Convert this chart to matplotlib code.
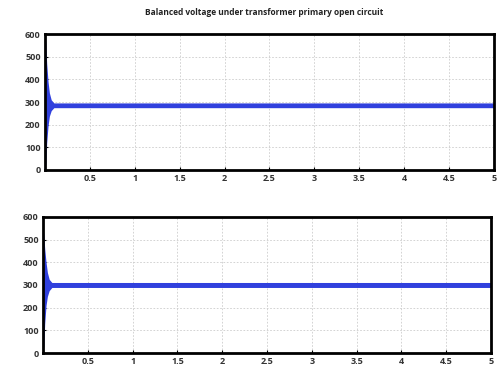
import matplotlib.pyplot as plt

# time points and envelope (upper / lower edge of the thick ripple band)
t_top = [0.0, 0.01, 0.02, 0.035, 0.05, 0.07, 0.1, 5.0]
upper_top = [600, 560, 470, 390, 340, 310, 296, 296]
lower_top = [0, 30, 120, 195, 238, 262, 275, 275]

t_bot = [0.0, 0.01, 0.02, 0.035, 0.05, 0.07, 0.1, 5.0]
upper_bot = [560, 520, 460, 400, 355, 325, 311, 311]
lower_bot = [0, 30, 130, 210, 250, 275, 289, 289]

xticks = [0.5, 1, 1.5, 2, 2.5, 3, 3.5, 4, 4.5, 5]
xticklabels = ["0.5", "1", "1.5", "2", "2.5", "3", "3.5", "4", "4.5", "5"]
yticks = [0, 100, 200, 300, 400, 500, 600]

title = "Balanced voltage under transformer primary open circuit"

plt.rcParams['font.family'] = ['Open Sans', 'DejaVu Sans']

fig = plt.figure(figsize=(4.99, 3.67), dpi=100)
ax1 = fig.add_axes([0.090, 0.537, 0.900, 0.370])
ax2 = fig.add_axes([0.086, 0.038, 0.898, 0.371])

for ax, t, up, lo in [(ax1, t_top, upper_top, lower_top),
                      (ax2, t_bot, upper_bot, lower_bot)]:
    ax.set_axisbelow(True)
    ax.fill_between(t, lo, up, color="#3040dd", linewidth=0, zorder=3)
    ax.set_xlim(0, 5)
    ax.set_ylim(0, 600)
    ax.set_xticks(xticks)
    ax.set_xticklabels(xticklabels)
    ax.set_yticks(yticks)
    ax.grid(True, color="#cccccc", linestyle=(0, (2, 2)), linewidth=0.6)
    ax.tick_params(direction="in", length=2, labelsize=6.5, pad=3)
    for lbl in ax.get_xticklabels() + ax.get_yticklabels():
        lbl.set_fontweight("bold")
        lbl.set_color("#333333")
    for sp in ax.spines.values():
        sp.set_linewidth(2.0)
        sp.set_color("black")
        sp.set_zorder(4)

fig.text(0.53, 0.965, title, ha="center", va="center", fontsize=6, fontweight="bold", color="#222222")

fig.savefig("out.png", dpi=100)
